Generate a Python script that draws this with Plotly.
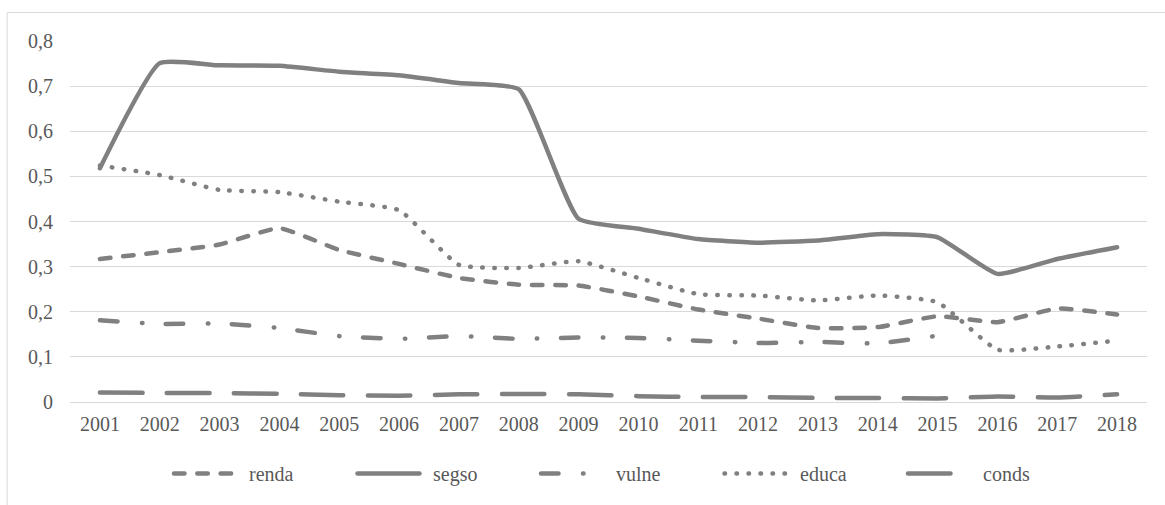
import plotly.graph_objects as go

# ---- data -------------------------------------------------------------
years = ["2001", "2002", "2003", "2004", "2005", "2006", "2007", "2008", "2009",
         "2010", "2011", "2012", "2013", "2014", "2015", "2016", "2017", "2018"]

renda = [0.317, 0.332, 0.349, 0.385, 0.337, 0.306, 0.275, 0.260, 0.258,
         0.234, 0.205, 0.185, 0.164, 0.166, 0.190, 0.177, 0.207, 0.194]
segso = [0.518, 0.751, 0.746, 0.745, 0.732, 0.724, 0.707, 0.693, 0.406,
         0.384, 0.361, 0.353, 0.358, 0.372, 0.365, 0.284, 0.317, 0.343]
vulne = [0.181, 0.173, 0.174, 0.164, 0.146, 0.140, 0.146, 0.140, 0.143,
         0.142, 0.136, 0.131, 0.133, 0.130, 0.147, None, None, None]
educa = [0.524, 0.503, 0.470, 0.465, 0.444, 0.425, 0.304, 0.297, 0.312,
         0.275, 0.239, 0.236, 0.225, 0.236, 0.221, 0.116, 0.123, 0.136]
conds = [0.021, 0.020, 0.020, 0.018, 0.015, 0.014, 0.017, 0.018, 0.017,
         0.013, 0.011, 0.011, 0.009, 0.009, 0.008, 0.012, 0.010, 0.017]

series_names = ["renda", "segso", "vulne", "educa", "conds"]
y_ticks = [0, 0.1, 0.2, 0.3, 0.4, 0.5, 0.6, 0.7, 0.8]

# ---- styling ----------------------------------------------------------
LINE_COLOR = "#808080"
TEXT_COLOR = "#595959"
GRID_COLOR = "#d9d9d9"
FONT = "Liberation Serif, Times New Roman, serif"
LW = 4.5

dash_styles = {
    "renda": "10.5px,12.8px",
    "segso": "solid",
    "vulne": "17.5px,24.5px,0.5px,23.5px",
    "educa": "0.5px,11.5px",
    "conds": "42.5px,24.5px",
}
values = {"renda": renda, "segso": segso, "vulne": vulne, "educa": educa, "conds": conds}

# plot area in pixels (1165 x 505 canvas)
W, H = 1165, 505
PL, PR, PT, PB = 70, 1147, 41, 402.5


def px(x):
    return (x - PL) / (PR - PL)


def py(y):
    return (PB - y) / (PB - PT)


fig = go.Figure()
for name in series_names:
    fig.add_trace(go.Scatter(
        x=years, y=values[name], name=name, mode="lines",
        line=dict(color=LINE_COLOR, width=LW, dash=dash_styles[name],
                  shape="spline", smoothing=0.45),
        showlegend=False,
    ))

shapes = []
annotations = []

# chart-area border
shapes.append(dict(type="rect", xref="paper", yref="paper",
                   x0=px(7.5), x1=px(W + 20), y0=py(H + 20), y1=py(12.5),
                   line=dict(color=GRID_COLOR, width=1), layer="below"))

# legend row below the axis
LEG_Y = 474
for i, name in enumerate(series_names):
    x0 = 172 + i * 183.5
    shapes.append(dict(type="line", xref="paper", yref="paper",
                       x0=px(x0 + 2), x1=px(x0 + 64), y0=py(LEG_Y), y1=py(LEG_Y),
                       line=dict(color=LINE_COLOR, width=LW, dash=dash_styles[name])))
    annotations.append(dict(xref="paper", yref="paper", x=px(x0 + 75), y=py(LEG_Y + 1),
                            text=name, showarrow=False, xanchor="left", yanchor="middle",
                            font=dict(family=FONT, size=20, color=TEXT_COLOR)))

fig.update_layout(
    width=W, height=H,
    margin=dict(l=PL, r=W - PR, t=PT, b=H - PB, pad=0),
    paper_bgcolor="white", plot_bgcolor="white",
    separators=", ",
    font=dict(family=FONT, size=20, color=TEXT_COLOR),
    shapes=shapes, annotations=annotations,
    xaxis=dict(type="category", range=[-0.5, len(years) - 0.5],
               showgrid=False, showline=False, zeroline=False,
               ticks="", ticklabelstandoff=8,
               tickfont=dict(family=FONT, size=20, color=TEXT_COLOR)),
    yaxis=dict(range=[0, 0.8], tickvals=y_ticks,
               showgrid=True, gridcolor=GRID_COLOR, gridwidth=1.3,
               zeroline=True, zerolinecolor=GRID_COLOR, zerolinewidth=1.3,
               showline=False, ticks="", ticklabelstandoff=16,
               tickfont=dict(family=FONT, size=20, color=TEXT_COLOR)),
)

round_caps = (
    "var s=document.createElement('style');"
    "s.textContent='path.js-line, .shapelayer path{stroke-linecap:round;}';"
    "document.head.appendChild(s);"
)

fig.write_html("out.html", post_script=round_caps)
